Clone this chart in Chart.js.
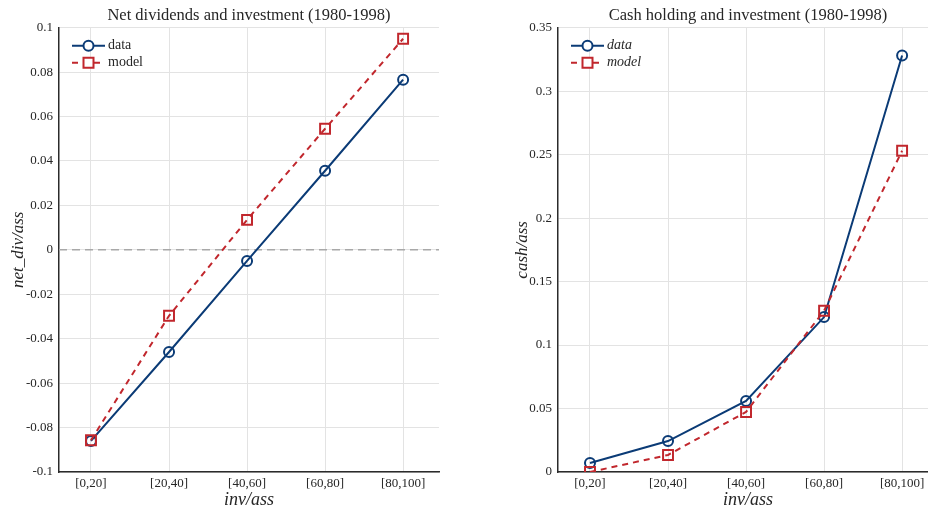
<!DOCTYPE html>
<html>
<head>
<meta charset="utf-8">
<script src="https://cdn.jsdelivr.net/npm/chart.js@4.4.0/dist/chart.umd.min.js"></script>
<style>
  html, body { margin: 0; padding: 0; background: #fff; overflow: hidden; }
  body { width: 928px; height: 510px; position: relative; }
  canvas { position: absolute; top: 0; }
  #divChart { left: 0; }
  #cashChart { left: 500px; }
</style>
</head>
<body>
<canvas id="divChart" width="460" height="510"></canvas>
<canvas id="cashChart" width="440" height="510"></canvas>
<script>
// Data
const categories = ['[0,20]', '[20,40]', '[40,60]', '[60,80]', '[80,100]'];
const divData = [-0.086, -0.046, -0.005, 0.0356, 0.0766];
const divModel = [-0.0857, -0.0297, 0.0135, 0.0545, 0.095];
const cashData = [0.0071, 0.0244, 0.056, 0.122, 0.328];
const cashModel = [0.0, 0.0134, 0.0473, 0.127, 0.253];
const divTicks = [-0.1, -0.08, -0.06, -0.04, -0.02, 0, 0.02, 0.04, 0.06, 0.08, 0.1];
const cashTicks = [0, 0.05, 0.1, 0.15, 0.2, 0.25, 0.3, 0.35];

const blue = '#0b3b76';
const red = '#c1272d';
const textColor = '#262626';
const serif = "'Liberation Serif', 'DejaVu Serif', serif";
const xMin = -0.41, xMax = 4.46;

const toPoints = (arr) => arr.map((v, i) => ({ x: i, y: v }));

// legend with line + marker, drawn inside the plot area
const lineLegend = {
    id: 'lineLegend',
    afterDatasetsDraw(chart, args, opts) {
        const { ctx, chartArea } = chart;
        const x0 = chartArea.left + 13;
        let y = chartArea.top + 18;
        ctx.save();
        opts.items.forEach(item => {
            ctx.strokeStyle = item.color;
            ctx.lineWidth = 2;
            ctx.setLineDash(item.dash || []);
            ctx.beginPath();
            ctx.moveTo(x0, y);
            ctx.lineTo(x0 + 33, y);
            ctx.stroke();
            ctx.setLineDash([]);
            ctx.fillStyle = '#fff';
            ctx.beginPath();
            if (item.marker === 'circle') {
                ctx.arc(x0 + 16.5, y, 5, 0, Math.PI * 2);
            } else {
                ctx.rect(x0 + 11.5, y - 5, 10, 10);
            }
            ctx.fill();
            ctx.stroke();
            ctx.fillStyle = textColor;
            ctx.font = (opts.italic ? 'italic ' : '') + '14px ' + serif;
            ctx.textBaseline = 'middle';
            ctx.textAlign = 'left';
            ctx.fillText(item.label, x0 + 36, y);
            y += 17;
        });
        ctx.restore();
    }
};

function makeChart(id, cfg) {
    const datasets = [
        {
            label: 'data',
            data: toPoints(cfg.data),
            borderColor: blue,
            backgroundColor: 'rgba(0,0,0,0)',
            borderWidth: 2,
            pointStyle: 'circle',
            pointRadius: 5,
            pointBorderWidth: 2,
            order: 1
        },
        {
            label: 'model',
            data: toPoints(cfg.model),
            borderColor: red,
            backgroundColor: 'rgba(0,0,0,0)',
            borderWidth: 2,
            borderDash: [6, 5],
            pointStyle: 'rect',
            pointRadius: 7,
            pointBorderWidth: 2,
            order: 0
        }
    ];
    if (cfg.zeroLine) {
        datasets.push({
            label: 'zero',
            data: [{ x: xMin, y: 0 }, { x: xMax, y: 0 }],
            borderColor: '#a8a8a8',
            borderWidth: 1.5,
            borderDash: [8, 5],
            pointRadius: 0,
            order: 2
        });
    }

    return new Chart(document.getElementById(id), {
        type: 'line',
        data: { datasets },
        options: {
            responsive: false,
            animation: false,
            layout: {
                autoPadding: false,
                padding: { left: 0, right: cfg.padRight, top: 0, bottom: 0 }
            },
            plugins: {
                legend: { display: false },
                tooltip: { enabled: false },
                title: {
                    display: true,
                    text: cfg.title,
                    fullSize: false,
                    color: textColor,
                    font: { family: serif, size: 16.5, weight: 'normal', lineHeight: 1.1 },
                    padding: { top: 7, bottom: 2.5 }
                },
                lineLegend: { items: [
                    { label: 'data', color: blue, marker: 'circle' },
                    { label: 'model', color: red, marker: 'rect', dash: [6, 5] }
                ], italic: cfg.italicLegend }
            },
            scales: {
                x: {
                    type: 'linear',
                    min: xMin,
                    max: xMax,
                    afterBuildTicks: (scale) => {
                        scale.ticks = categories.map((c, i) => ({ value: i }));
                    },
                    afterFit: (scale) => {
                        scale.height = 38;
                        scale.paddingLeft = 0;
                        scale.paddingRight = 0;
                    },
                    ticks: {
                        color: textColor,
                        font: { family: serif, size: 13 },
                        padding: 4,
                        maxRotation: 0,
                        callback: (v) => categories[v]
                    },
                    grid: { color: '#e3e3e3', lineWidth: 1, drawTicks: false },
                    border: { display: true, color: '#2b2b2b', width: 1.5 },
                    title: {
                        display: true,
                        text: 'inv/ass',
                        color: textColor,
                        font: { family: serif, size: 18, style: 'italic', lineHeight: 1.1 },
                        padding: { top: 0, bottom: 0 }
                    }
                },
                y: {
                    type: 'linear',
                    min: cfg.ticks[0],
                    max: cfg.ticks[cfg.ticks.length - 1],
                    afterBuildTicks: (scale) => {
                        scale.ticks = cfg.ticks.map(v => ({ value: v }));
                    },
                    afterFit: (scale) => { scale.width = cfg.yWidth; },
                    ticks: {
                        color: textColor,
                        font: { family: serif, size: 13 },
                        padding: 6,
                        callback: (v) => String(Math.round(v * 1000) / 1000)
                    },
                    grid: { color: '#e3e3e3', lineWidth: 1, drawTicks: false },
                    border: { display: true, color: '#2b2b2b', width: 1.5 },
                    title: {
                        display: true,
                        text: cfg.yLabel,
                        color: textColor,
                        font: { family: serif, size: 17, style: 'italic', lineHeight: 1.1 },
                        padding: { top: cfg.yTitlePad, bottom: 0 }
                    }
                }
            }
        },
        plugins: [lineLegend]
    });
}

makeChart('divChart', {
    title: 'Net dividends and investment (1980-1998)',
    data: divData,
    model: divModel,
    ticks: divTicks,
    yLabel: 'net_div/ass',
    zeroLine: true,
    italicLegend: false,
    padRight: 21,
    yWidth: 59,
    yTitlePad: 8.7
});

// right panel runs past the window edge, as in the original figure
makeChart('cashChart', {
    title: 'Cash holding and investment (1980-1998)',
    data: cashData,
    model: cashModel,
    ticks: cashTicks,
    yLabel: 'cash/ass',
    zeroLine: false,
    italicLegend: true,
    padRight: 2,
    yWidth: 58,
    yTitlePad: 13.6
});
</script>
</body>
</html>
